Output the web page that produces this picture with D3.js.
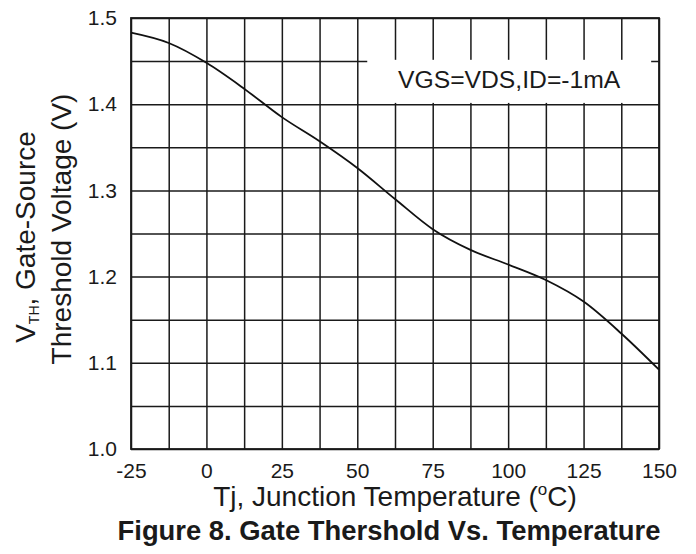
<!DOCTYPE html>
<html lang="en">
<head>
<meta charset="UTF-8">
<title>Gate Threshold Vs. Temperature</title>
<script src="https://cdn.jsdelivr.net/npm/d3@7"></script>
<style>
  body { margin: 0; background: #fff; }
  text { font-family: "Liberation Sans", Arial, sans-serif; fill: #1a1a1a; }
</style>
</head>
<body>
<script type="text/javascript">

// data
var temps = [-25, -12.5, 0, 12.5, 25, 37.5, 50, 62.5, 75, 87.5, 100, 112.5, 125, 137.5, 150];
var vth   = [1.483, 1.471, 1.448, 1.418, 1.385, 1.357, 1.326, 1.290, 1.255, 1.231, 1.214, 1.196, 1.171, 1.134, 1.092];
var xTickLabels = [-25, 0, 25, 50, 75, 100, 125, 150];
var yTickLabels = [1.0, 1.1, 1.2, 1.3, 1.4, 1.5];
var xGrid = d3.range(-25, 150.1, 12.5);
var yGrid = d3.range(1.0, 1.501, 0.05);
var note = "VGS=VDS,ID=-1mA";

var W = 696, H = 554;
var margin = { top: 18, left: 131, bottom: 105, right: 37 };
var width = W - margin.left - margin.right;
var height = H - margin.top - margin.bottom;

var svg = d3.select('body').append('svg')
  .attr('width', W)
  .attr('height', H);

svg.append('rect').attr('width', W).attr('height', H).attr('fill', '#fff');

var g = svg.append('g')
  .attr('transform', 'translate(' + margin.left + ',' + margin.top + ')');

var x = d3.scaleLinear().domain([-25, 150]).range([0, width]);
var y = d3.scaleLinear().domain([1.0, 1.5]).range([height, 0]);

// grid
g.append('g')
  .attr('transform', 'translate(0,' + height + ')')
  .call(d3.axisBottom(x).tickValues(xGrid).tickSize(-height).tickFormat(''))
  .call(function (a) { a.select('.domain').remove(); })
  .selectAll('line').attr('stroke', '#1a1a1a').attr('stroke-width', 1.5);

g.append('g')
  .call(d3.axisLeft(y).tickValues(yGrid).tickSize(-width).tickFormat(''))
  .call(function (a) { a.select('.domain').remove(); })
  .selectAll('line').attr('stroke', '#1a1a1a').attr('stroke-width', 1.5);

// white box behind the condition note
g.append('rect')
  .attr('x', x(53.3))
  .attr('y', y(1.4515))
  .attr('width', x(147.4) - x(53.3))
  .attr('height', y(1.4015) - y(1.4515))
  .attr('fill', '#fff');

g.append('text')
  .attr('x', x(63.5))
  .attr('y', y(1.4185))
  .style('font-size', '24.7px')
  .text(note);

// frame
g.append('rect')
  .attr('width', width)
  .attr('height', height)
  .attr('fill', 'none')
  .attr('stroke', '#1a1a1a')
  .attr('stroke-width', 1.8);

// curve
var line = d3.line()
  .x(function (d, i) { return x(temps[i]); })
  .y(function (d) { return y(d); })
  .curve(d3.curveMonotoneX);

g.append('path')
  .datum(vth)
  .attr('d', line)
  .attr('fill', 'none')
  .attr('stroke', '#111')
  .attr('stroke-width', 1.8);

// tick labels
var axX = g.append('g')
  .attr('transform', 'translate(0,' + height + ')')
  .call(d3.axisBottom(x).tickValues(xTickLabels).tickSize(0).tickPadding(14)
    .tickFormat(function (d) { return String(d); }));
axX.select('.domain').remove();
axX.selectAll('text').style('font-size', '21px').attr('fill', '#1a1a1a');

var axY = g.append('g')
  .call(d3.axisLeft(y).tickValues(yTickLabels).tickSize(0).tickPadding(14).tickFormat(d3.format('.1f')));
axY.select('.domain').remove();
axY.selectAll('text').style('font-size', '21px').attr('fill', '#1a1a1a');

// x title
var xt = svg.append('text')
  .attr('x', margin.left + width / 2)
  .attr('y', 506)
  .attr('text-anchor', 'middle')
  .style('font-size', '28px');
xt.append('tspan').text('Tj, Junction Temperature (');
xt.append('tspan').attr('dy', -11).style('font-size', '17px').text('o');
xt.append('tspan').attr('dy', 11).text('C)');

// figure caption
svg.append('text')
  .attr('x', 389)
  .attr('y', 540)
  .attr('text-anchor', 'middle')
  .style('font-size', '27.4px')
  .style('font-weight', 'bold')
  .attr('fill', '#000')
  .text('Figure 8. Gate Thershold Vs. Temperature');

// y title, two lines
var yt1 = svg.append('text')
  .attr('transform', 'translate(35,237) rotate(-90)')
  .attr('text-anchor', 'middle')
  .style('font-size', '28px');
yt1.append('tspan').text('V');
yt1.append('tspan').attr('dy', 4).style('font-size', '14px').text('TH');
yt1.append('tspan').attr('dy', -4).text(', Gate-Source');

svg.append('text')
  .attr('transform', 'translate(71,229) rotate(-90)')
  .attr('text-anchor', 'middle')
  .style('font-size', '28px')
  .text('Threshold Voltage (V)');

</script>
</body>
</html>
